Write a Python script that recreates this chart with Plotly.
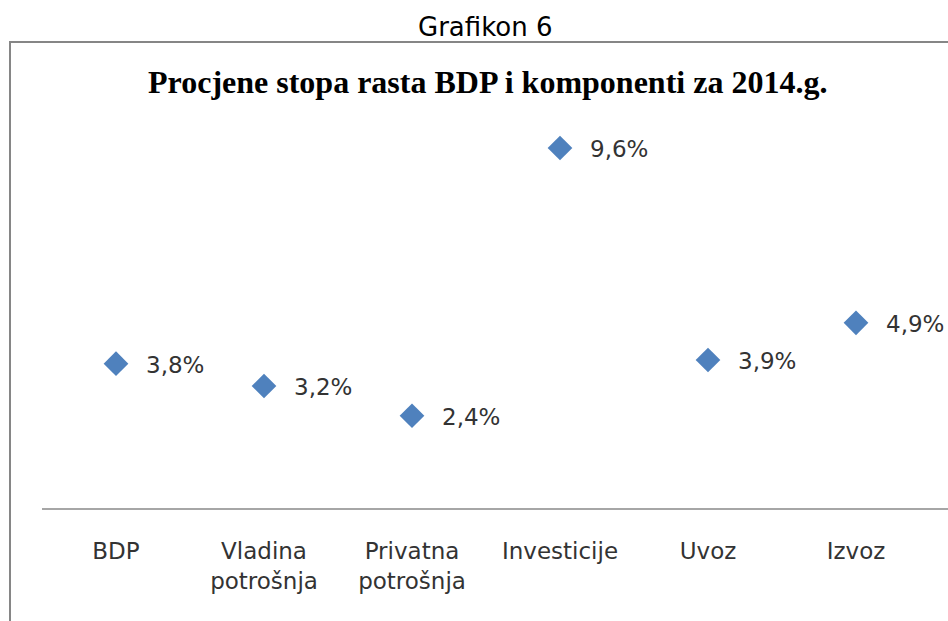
import plotly.graph_objects as go

categories = ["BDP", "Vladina<br>potrošnja", "Privatna<br>potrošnja", "Investicije", "Uvoz", "Izvoz"]
values = [3.8, 3.2, 2.4, 9.6, 3.9, 4.9]
value_labels = ["3,8%", "3,2%", "2,4%", "9,6%", "3,9%", "4,9%"]

W, H = 948, 621
L, R, T, B = 42, 0, 61, 113
PW, PH = W - L - R, H - T - B
SLOT = 148.0

def px_x(p):
    return (p - L) / PW

def px_y(p):
    return (H - B - p) / PH

fig = go.Figure()
xs = list(range(len(categories)))
fig.add_trace(go.Scatter(
    x=xs, y=values, mode="markers",
    marker=dict(symbol="diamond", size=19, color="#4F81BD"),
    hoverinfo="skip", showlegend=False,
))

for xi, v, lab in zip(xs, values, value_labels):
    fig.add_annotation(x=xi, y=v, text=lab, showarrow=False, xanchor="left",
                       yanchor="middle", xshift=28, yshift=-1,
                       font=dict(family="DejaVu Sans", size=23, color="#333333"))

# Outer chart border
fig.add_shape(type="rect", xref="paper", yref="paper",
              x0=px_x(10), x1=px_x(960), y0=px_y(640), y1=px_y(42),
              line=dict(color="#868686", width=2), fillcolor="rgba(0,0,0,0)", layer="below")

fig.add_annotation(xref="paper", yref="paper", x=px_x(485), y=px_y(27), text="Grafikon 6",
                   showarrow=False, xanchor="center", yanchor="middle",
                   font=dict(family="DejaVu Sans", size=26, color="#000000"))
fig.add_annotation(xref="paper", yref="paper", x=px_x(487), y=px_y(82),
                   text="<b>Procjene stopa rasta BDP i komponenti za 2014.g.</b>",
                   showarrow=False, xanchor="center", yanchor="middle",
                   font=dict(family="Liberation Serif", size=32, color="#000000"))

fig.update_xaxes(
    tickmode="array", tickvals=xs, ticktext=categories,
    range=[-0.5, -0.5 + PW / SLOT], showgrid=False, zeroline=False,
    showline=True, linecolor="#A6A6A6", linewidth=2, ticks="",
    ticklabelstandoff=21,
    tickfont=dict(family="DejaVu Sans", size=23, color="#333333"),
    fixedrange=True,
)
fig.update_yaxes(range=[-0.08, 11.94], visible=False, showgrid=False, zeroline=False, fixedrange=True)

fig.update_layout(
    width=W, height=H, margin=dict(l=L, r=R, t=T, b=B),
    plot_bgcolor="white", paper_bgcolor="white",
)

fig.write_html("out.html")
